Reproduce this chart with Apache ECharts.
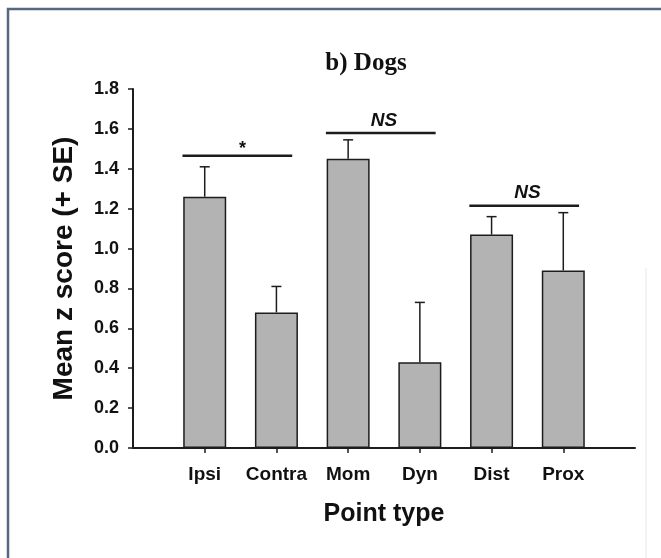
<!DOCTYPE html>
<html>
<head>
<meta charset="utf-8">
<script src="https://cdn.jsdelivr.net/npm/echarts@6/dist/echarts.min.js"></script>
<style>
html,body{margin:0;padding:0;background:#fff;}
#chart{width:661px;height:558px;}
</style>
</head>
<body>
<div id="chart"></div>
<script>
// ---- data ----
const categories = ['Ipsi', 'Contra', 'Mom', 'Dyn', 'Dist', 'Prox'];
const means = [1.26, 0.68, 1.45, 0.43, 1.07, 0.89];
const se = [0.15, 0.13, 0.095, 0.30, 0.09, 0.29];
const yTicks = [0, 0.2, 0.4, 0.6, 0.8, 1.0, 1.2, 1.4, 1.6, 1.8];
const sigPairs = [['Ipsi', 'Contra'], ['Mom', 'Dyn'], ['Dist', 'Prox']];
const sigHeights = [1.465, 1.58, 1.215];
const sigLabels = ['*', 'NS', 'NS'];

// ---- style constants ----
const INK = '#1c1c1c';
const BAR = '#b3b3b3';
const PAD_L = 0.31, PAD_R = 0.22;

const chart = echarts.init(document.getElementById('chart'), null, {renderer: 'canvas'});

const barData = means.map((m, i) => [i + 1, m]);
const errData = means.map((m, i) => [i + 1, m, m + se[i]]);
const sigData = sigPairs.map((p, k) => [
  categories.indexOf(p[0]) + 1,
  categories.indexOf(p[1]) + 1,
  sigHeights[k],
  k
]);

const option = {
  animation: false,
  backgroundColor: '#ffffff',
  title: {
    text: 'b) Dogs',
    left: 361,
    top: 46,
    textAlign: 'center',
    textStyle: {fontFamily: 'Liberation Serif', fontWeight: 'bold', fontSize: 25, color: '#111'}
  },
  graphic: [{
    type: 'rect',
    shape: {x: 8, y: 9, width: 700, height: 620},
    style: {fill: 'none', stroke: '#566880', lineWidth: 2.5},
    silent: true
  }, {
    type: 'line',
    shape: {x1: 646, y1: 268, x2: 646, y2: 558},
    style: {stroke: '#e6e6e6', lineWidth: 1},
    silent: true
  }],
  grid: {left: 133, top: 89, width: 502, height: 359, containLabel: false},
  xAxis: {
    type: 'value',
    min: 0, max: 7, interval: 1,
    splitLine: {show: false},
    axisLine: {show: true, lineStyle: {color: INK, width: 2}},
    axisTick: {show: true, length: 5, lineStyle: {color: INK, width: 1.5}, customValues: [1, 2, 3, 4, 5, 6]},
    axisLabel: {
      customValues: [1, 2, 3, 4, 5, 6],
      formatter: v => categories[Math.round(v) - 1] || '',
      fontFamily: 'Liberation Sans', fontWeight: 'bold', fontSize: 19, color: '#111', margin: 17
    },
    name: 'Point type',
    nameLocation: 'middle',
    nameGap: 54,
    nameTextStyle: {fontFamily: 'Liberation Sans', fontWeight: 'bold', fontSize: 25, color: '#111'}
  },
  yAxis: {
    type: 'value',
    min: 0, max: 1.8, interval: 0.2,
    splitLine: {show: false},
    axisLine: {show: true, lineStyle: {color: INK, width: 2}},
    axisTick: {show: true, length: 5, lineStyle: {color: INK, width: 1.5}},
    axisLabel: {
      formatter: v => Number(v).toFixed(1),
      fontFamily: 'Liberation Sans', fontWeight: 'bold', fontSize: 18, color: '#111', margin: 14
    },
    name: 'Mean z score (+ SE)',
    nameLocation: 'middle',
    nameGap: 55,
    nameTextStyle: {fontFamily: 'Liberation Sans', fontWeight: 'bold', fontSize: 28, color: '#111'}
  },
  series: [
    {
      type: 'bar',
      data: barData,
      barWidth: 43,
      itemStyle: {color: BAR, borderColor: INK, borderWidth: 1.5},
      z: 2
    },
    {
      type: 'custom',
      data: errData,
      z: 3,
      renderItem: function (params, api) {
        const x = api.value(0);
        const p0 = api.coord([x, api.value(1)]);
        const p1 = api.coord([x, api.value(2)]);
        const cap = 5;
        const st = {stroke: INK, lineWidth: 1.5};
        return {
          type: 'group',
          children: [
            {type: 'line', shape: {x1: p0[0], y1: p0[1], x2: p1[0], y2: p1[1]}, style: st},
            {type: 'line', shape: {x1: p1[0] - cap, y1: p1[1], x2: p1[0] + cap, y2: p1[1]}, style: st}
          ]
        };
      }
    },
    {
      type: 'custom',
      data: sigData,
      z: 4,
      renderItem: function (params, api) {
        const a = api.value(0), b = api.value(1), h = api.value(2);
        const k = api.value(3);
        const pa = api.coord([a - PAD_L, h]);
        const pb = api.coord([b + PAD_R, h]);
        const pm = api.coord([(a + b) / 2, h]);
        const lbl = sigLabels[k];
        const isStar = lbl === '*';
        return {
          type: 'group',
          children: [
            {type: 'line', shape: {x1: pa[0], y1: pa[1], x2: pb[0], y2: pb[1]}, style: {stroke: INK, lineWidth: 2.5}},
            {
              type: 'text',
              x: pm[0] + (isStar ? 2 : 0),
              y: pm[1] - (isStar ? -2 : 3),
              style: {
                text: lbl,
                textAlign: 'center',
                textVerticalAlign: 'bottom',
                font: isStar ? 'bold 18px "Liberation Sans"' : 'italic bold 19px "Liberation Sans"',
                fill: '#111'
              }
            }
          ]
        };
      }
    }
  ]
};
chart.setOption(option);
</script>
</body>
</html>
